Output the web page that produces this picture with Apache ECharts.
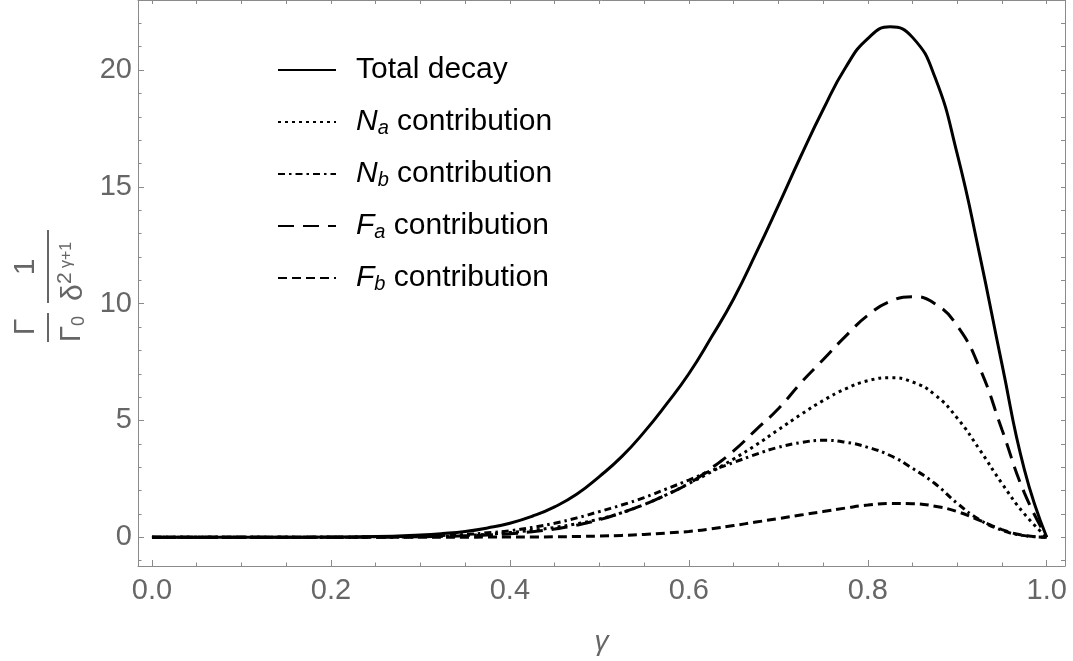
<!DOCTYPE html>
<html>
<head>
<meta charset="utf-8">
<style>
  html, body { margin: 0; padding: 0; background: #fff; }
  #main { width: 1073px; height: 661px; }
</style>
</head>
<body>
<div id="main"></div>
<script src="https://cdn.jsdelivr.net/npm/echarts@6/dist/echarts.min.js"></script>
<script>
const gammaVals = [0, 0.05, 0.1, 0.15, 0.2, 0.25,
  0.3, 0.325, 0.35, 0.375, 0.4, 0.425, 0.45, 0.475, 0.5, 0.525, 0.55, 0.575, 0.6, 0.625, 0.65,
  0.675, 0.7, 0.725, 0.75, 0.775, 0.8, 0.825, 0.85, 0.875, 0.9, 0.925, 0.95, 0.975, 1.0];
const totalDecay = [0, 0, 0, 0, 0.01, 0.03,
  0.1, 0.16, 0.25, 0.4, 0.6, 0.9, 1.3, 1.85, 2.6, 3.45, 4.5, 5.7, 7.0, 8.55, 10.2,
  12.15, 14.2, 16.3, 18.3, 20.1, 21.35, 21.85, 21.4, 19.7, 16.4, 12.1, 7.4, 2.9, 0];
const naContrib = [0, 0, 0, 0, 0, 0.01,
  0.03, 0.05, 0.08, 0.13, 0.2, 0.3, 0.42, 0.58, 0.78, 1.05, 1.4, 1.82, 2.3, 2.8, 3.35,
  3.95, 4.6, 5.25, 5.85, 6.35, 6.7, 6.83, 6.65, 6.1, 5.1, 3.75, 2.3, 1.0, 0];
const nbContrib = [0, 0, 0, 0, 0, 0.02,
  0.05, 0.08, 0.12, 0.19, 0.28, 0.42, 0.6, 0.83, 1.1, 1.38, 1.7, 2.07, 2.45, 2.85, 3.2,
  3.55, 3.85, 4.05, 4.15, 4.07, 3.85, 3.5, 2.95, 2.3, 1.45, 0.75, 0.3, 0.07, 0];
const faContrib = [0, 0, 0, 0, 0, 0,
  0.02, 0.04, 0.06, 0.1, 0.15, 0.24, 0.35, 0.52, 0.75, 1.05, 1.4, 1.82, 2.3, 2.95, 3.7,
  4.6, 5.5, 6.6, 7.6, 8.6, 9.5, 10.1, 10.3, 10.0, 9.05, 7.25, 4.6, 1.9, 0];
const fbContrib = [0, 0, 0, 0, 0, 0,
  0, 0, 0, 0.01, 0.01, 0.015, 0.02, 0.035, 0.05, 0.08, 0.12, 0.18, 0.25, 0.36, 0.5,
  0.65, 0.8, 0.95, 1.1, 1.25, 1.38, 1.45, 1.44, 1.33, 1.1, 0.72, 0.33, 0.08, 0];

// ticks
const xMajor = [0, 0.2, 0.4, 0.6, 0.8, 1.0];
const xMinor = [0.05, 0.1, 0.15, 0.25, 0.3, 0.35, 0.45, 0.5, 0.55, 0.65, 0.7, 0.75, 0.85, 0.9, 0.95];
const yMajor = [0, 5, 10, 15, 20];
const yMinor = [-1, 1, 2, 3, 4, 6, 7, 8, 9, 11, 12, 13, 14, 16, 17, 18, 19, 21, 22];

const names = ['Total decay', 'Na contribution', 'Nb contribution', 'Fa contribution', 'Fb contribution'];
const legendText = {
  'Total decay': 'Total decay',
  'Na contribution': '{it|N}{sub|a} contribution',
  'Nb contribution': '{it|N}{sub|b} contribution',
  'Fa contribution': '{it|F}{sub|a} contribution',
  'Fb contribution': '{it|F}{sub|b} contribution'
};

var myChart = echarts.init(document.getElementById('main'));

const frameColor = '#8a8a8a';
const labelColor = '#666666';
const font = '"Liberation Sans", Arial, sans-serif';

function pairs(ys) {
  return gammaVals.map(function (g, i) { return [g, ys[i]]; });
}

function mkSeries(name, ys, dash) {
  return {
    name: name,
    type: 'line',
    data: pairs(ys),
    symbol: 'none',
    showSymbol: false,
    smooth: 0.5,
    xAxisIndex: 0,
    yAxisIndex: 0,
    lineStyle: { color: '#000', width: 3, type: dash },
    itemStyle: { color: '#000' }
  };
}

const xRange = { min: -0.0156, max: 1.0204 };
const yRange = { min: -1.23, max: 23.0 };

option = {
  animation: false,
  grid: { left: 138, right: 8, top: 0, bottom: 88 },
  legend: {
    data: names,
    orient: 'vertical',
    left: 277,
    top: 54,
    padding: 0,
    itemWidth: 58,
    itemHeight: 14,
    itemGap: 20,
    itemStyle: { color: 'rgba(0,0,0,0)', borderWidth: 0, opacity: 0 },
    formatter: function (n) { return legendText[n]; },
    textStyle: {
      color: '#000',
      fontFamily: font,
      fontSize: 30,
      lineHeight: 32,
      padding: [0, 0, 0, 15],
      rich: {
        it: { fontSize: 30, fontStyle: 'italic', fontFamily: font, color: '#000', lineHeight: 32 },
        sub: { fontSize: 20, fontStyle: 'italic', fontFamily: font, color: '#000', lineHeight: 20, verticalAlign: 'bottom' }
      }
    }
  },
  xAxis: [
    {
      type: 'value', position: 'bottom', min: xRange.min, max: xRange.max,
      name: 'γ', nameLocation: 'middle', nameGap: 62,
      nameTextStyle: { fontSize: 28, fontStyle: 'italic', color: labelColor, fontFamily: font },
      axisLine: { onZero: false, lineStyle: { color: frameColor, width: 1 } },
      axisTick: { inside: true, length: 6, customValues: xMajor, lineStyle: { color: frameColor } },
      axisLabel: { customValues: xMajor, fontSize: 29, color: labelColor, fontFamily: font, margin: 10,
        formatter: function (v) { return v.toFixed(1); } },
      splitLine: { show: false }
    },
    {
      type: 'value', position: 'bottom', min: xRange.min, max: xRange.max,
      axisLine: { show: false, onZero: false },
      axisTick: { inside: true, length: 3.5, customValues: xMinor, lineStyle: { color: frameColor } },
      axisLabel: { show: false },
      splitLine: { show: false }
    },
    {
      type: 'value', position: 'top', min: xRange.min, max: xRange.max,
      axisLine: { onZero: false, lineStyle: { color: frameColor, width: 1 } },
      axisTick: { inside: true, length: 4, customValues: xMajor.concat(xMinor), lineStyle: { color: frameColor } },
      axisLabel: { show: false },
      splitLine: { show: false }
    }
  ],
  yAxis: [
    {
      type: 'value', position: 'left', min: yRange.min, max: yRange.max,
      axisLine: { show: true, onZero: false, lineStyle: { color: frameColor, width: 1 } },
      axisTick: { show: true, inside: true, length: 6, customValues: yMajor, lineStyle: { color: frameColor } },
      axisLabel: { customValues: yMajor, fontSize: 29, color: labelColor, fontFamily: font, margin: 6 },
      splitLine: { show: false }
    },
    {
      type: 'value', position: 'left', min: yRange.min, max: yRange.max,
      axisLine: { show: false, onZero: false },
      axisTick: { show: true, inside: true, length: 3.5, customValues: yMinor, lineStyle: { color: frameColor } },
      axisLabel: { show: false },
      splitLine: { show: false }
    },
    {
      type: 'value', position: 'right', min: yRange.min, max: yRange.max,
      axisLine: { show: true, onZero: false, lineStyle: { color: frameColor, width: 1 } },
      axisTick: { show: true, inside: true, length: 4, customValues: yMajor.concat(yMinor), lineStyle: { color: frameColor } },
      axisLabel: { show: false },
      splitLine: { show: false }
    }
  ],
  // rotated fraction label of the y axis
  graphic: [
    {
      type: 'group', x: 48, y: 287, rotation: Math.PI / 2,
      children: [
        { type: 'text', x: -40, y: -22, style: { text: 'Γ', fontSize: 30, fontFamily: font, fill: labelColor, align: 'center', verticalAlign: 'middle' } },
        { type: 'line', shape: { x1: -55, y1: 0, x2: -26, y2: 0 }, style: { stroke: labelColor, lineWidth: 2 } },
        { type: 'text', x: -55, y: 24, style: { text: 'Γ', fontSize: 29, fontFamily: font, fill: labelColor, align: 'left', verticalAlign: 'middle' } },
        { type: 'text', x: -39, y: 31, style: { text: '0', fontSize: 18, fontFamily: font, fill: labelColor, align: 'left', verticalAlign: 'middle' } },
        { type: 'line', shape: { x1: -16, y1: 0, x2: 57, y2: 0 }, style: { stroke: labelColor, lineWidth: 2 } },
        { type: 'text', x: 20, y: -22, style: { text: '1', fontSize: 30, fontFamily: font, fill: labelColor, align: 'center', verticalAlign: 'middle' } },
        { type: 'text', x: -14, y: 26, style: { text: 'δ', fontSize: 30, fontFamily: font, fill: labelColor, align: 'left', verticalAlign: 'middle' } },
        { type: 'text', x: 3, y: 17, style: { text: '2', fontSize: 21, fontFamily: font, fill: labelColor, align: 'left', verticalAlign: 'middle' } },
        { type: 'text', x: 19, y: 19, style: { text: 'γ+1', fontSize: 16, fontFamily: font, fill: labelColor, align: 'left', verticalAlign: 'middle' } }
      ]
    }
  ],
  series: [
    mkSeries(names[0], totalDecay, 'solid'),
    mkSeries(names[1], naContrib, [3, 4]),
    mkSeries(names[2], nbContrib, [7, 4, 2.5, 4]),
    mkSeries(names[3], faContrib, [16, 9]),
    mkSeries(names[4], fbContrib, [9, 5])
  ]
};

myChart.setOption(option);
</script>
</body>
</html>
